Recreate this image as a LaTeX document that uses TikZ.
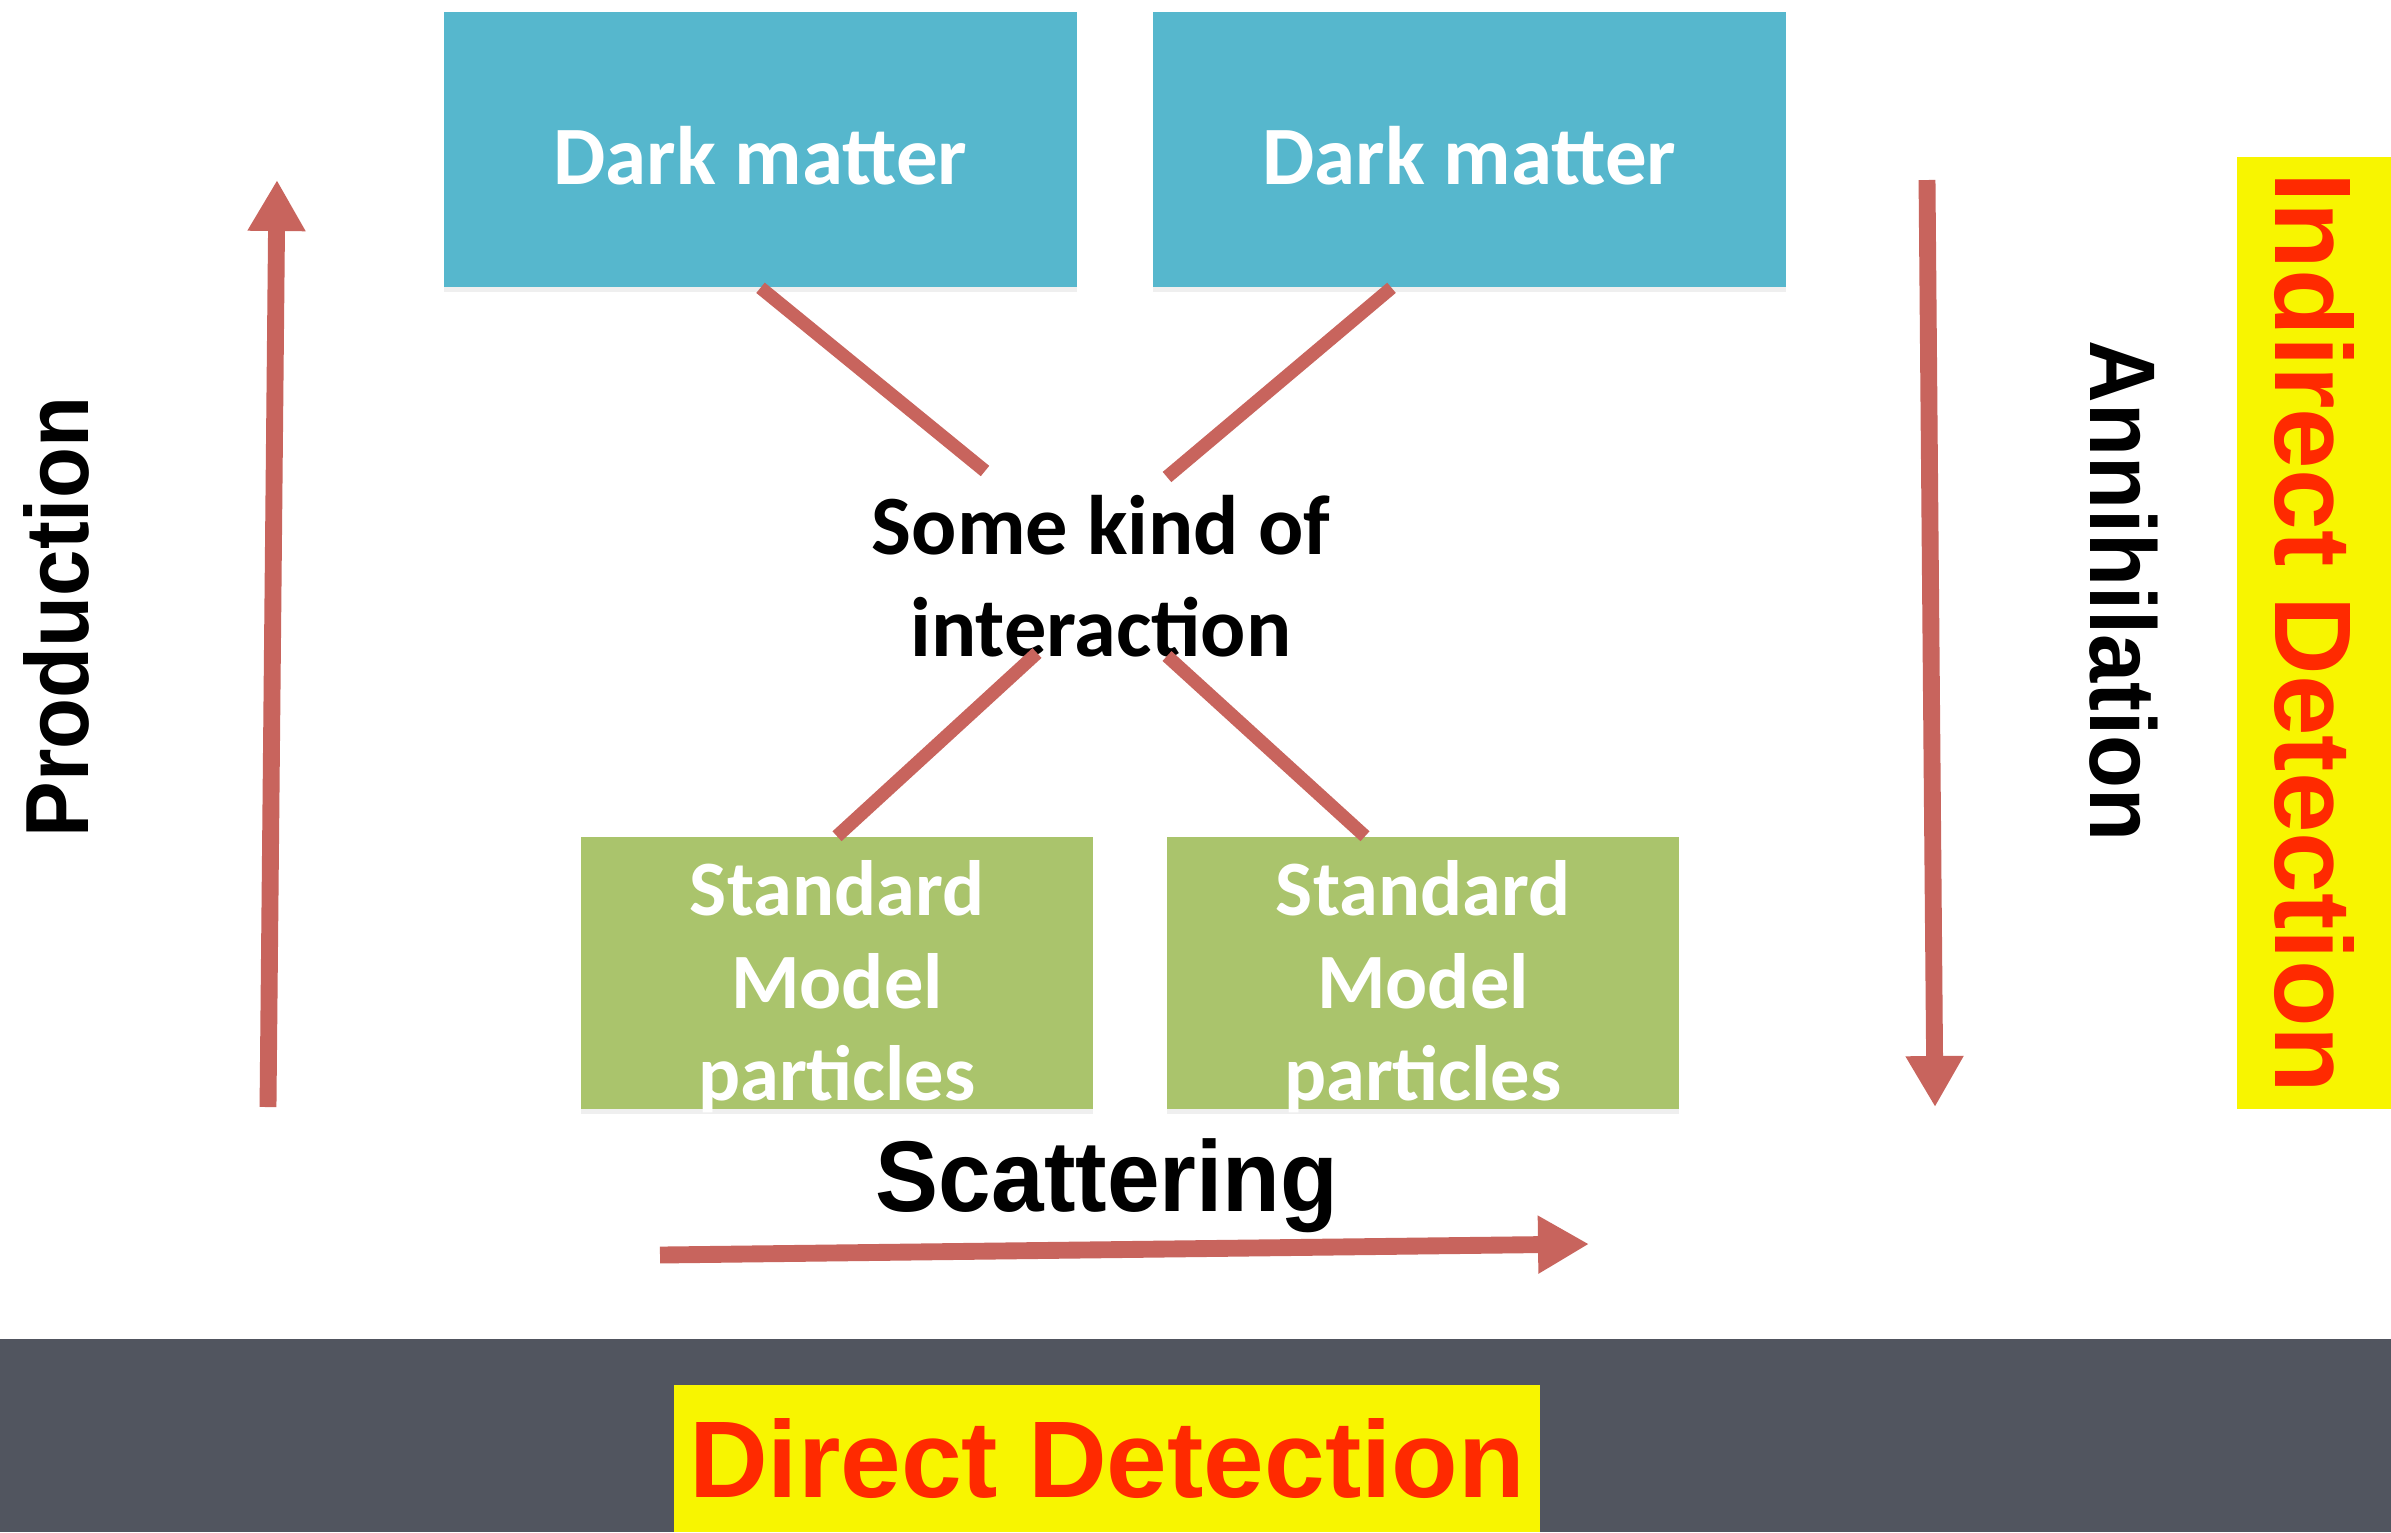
\documentclass[tikz,border=0pt]{standalone}
\usepackage{fontspec}
\setmainfont{Carlito}
\newfontfamily\helv{Liberation Sans}
\newfontfamily\helvc[FakeStretch=0.93]{Liberation Sans}
\newfontfamily\helvs[FakeStretch=0.94]{Liberation Sans}
\usetikzlibrary{arrows.meta,calc,shadows}
\definecolor{dmblue}{HTML}{56B7CD}
\definecolor{smgreen}{HTML}{AAC46C}
\definecolor{linered}{HTML}{C8645D}
\definecolor{hlyellow}{HTML}{F8F500}
\definecolor{detred}{HTML}{FF2A00}
\definecolor{bandgray}{HTML}{51555F}
\tikzset{
  dmbox/.style={fill=dmblue, minimum width=6.33cm, minimum height=2.75cm, inner sep=0pt,
    text=white, font=\bfseries\fontsize{23.6}{28}\selectfont,
    drop shadow={shadow xshift=0pt, shadow yshift=-1.5pt, opacity=0.12}},
  smbox/.style={fill=smgreen, minimum width=5.12cm, minimum height=2.72cm, inner sep=0pt,
    text=white, align=center, font=\bfseries\fontsize{22.3}{26.3}\selectfont,
    text height=72.5pt, text depth=0pt,
    drop shadow={shadow xshift=0pt, shadow yshift=-1.5pt, opacity=0.12}},
  xline/.style={draw=linered, line width=3.8pt},
  bigarrow/.style={draw=linered, line width=4.8pt, -{Triangle[length=14.5pt, width=15.5pt]}},
  sidelabel/.style={font=\helvc\bfseries\fontsize{25.5}{30}\selectfont, inner sep=0pt},
  detlabel/.style={fill=hlyellow, text=detred, inner sep=0pt, font=\helv\bfseries\fontsize{31}{36}\selectfont}
}
\begin{document}
\begin{tikzpicture}[x=0.01cm, y=-0.01cm]
\useasboundingbox (0,0) rectangle (2391,1532);
\fill[white] (0,0) rectangle (2391,1532);
% bottom band
\fill[bandgray] (0,1339) rectangle (2391,1532);

% boxes
\node[dmbox] (dm1) at (760.5,149.5) {\rule{0pt}{20pt}Dark matter};
\node[dmbox] (dm2) at (1469.5,149.5) {\rule{0pt}{20pt}Dark matter};
\node[smbox] (sm1) at (837,973) {Standard\\Model\\particles};
\node[smbox] (sm2) at (1423,973) {Standard\\Model\\particles};

% interaction text
\node[align=center, font=\bfseries\fontsize{24}{29}\selectfont, inner sep=0pt] (mid) at (1101,576) {Some kind of\\interaction};

% X lines
\coordinate (c1) at (985,471);
\coordinate (c2) at (1167,477);
\coordinate (c3) at (1037,653);
\coordinate (c4) at (1167,656);
\draw[xline] (dm1.south) -- (c1);
\draw[xline] ($(dm2.south)+(-78,0)$) -- (c2);
\draw[xline] (sm1.north) -- (c3);
\draw[xline] ($(sm2.north)+(-58,0)$) -- (c4);

% side arrows
\coordinate (p0) at (268,1107);
\coordinate (p1) at (277,180);
\draw[bigarrow] (p0) -- (p1);
\coordinate (a0) at (1927,180);
\coordinate (a1) at (1935,1107);
\draw[bigarrow] (a0) -- (a1);
\coordinate (s0) at (660,1255);
\coordinate (s1) at (1589,1244);
\draw[bigarrow] (s0) -- (s1);

% labels
\node[sidelabel, rotate=90] (prod) at (56,617) {Production};
\node[sidelabel, rotate=-90, font=\helvc\bfseries\fontsize{26.5}{31}\selectfont] (ann) at (2124,591) {Annihilation};
\node[font=\helvs\bfseries\fontsize{28.6}{33}\selectfont, inner sep=0pt] (scat) at (1107,1186) {Scattering};

% detection labels
\node[detlabel, rotate=-90, minimum width=9.52cm, minimum height=1.54cm] (ind) at (2314,633) {Indirect Detection};
\node[detlabel, minimum width=8.66cm, minimum height=1.47cm] (dir) at (1107,1458.5) {Direct Detection};
\end{tikzpicture}
\end{document}
